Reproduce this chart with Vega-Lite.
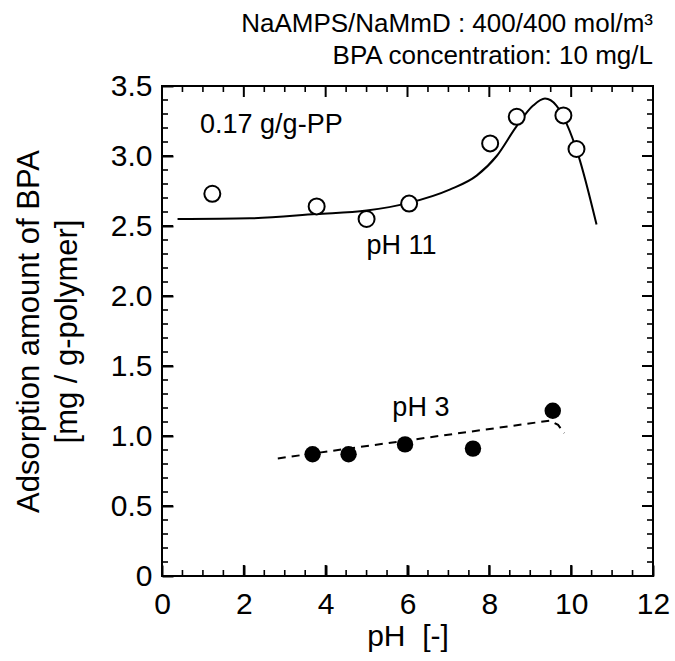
{
  "$schema": "https://vega.github.io/schema/vega-lite/v6.json",
  "width": 491,
  "height": 490,
  "autosize": {"type": "none"},
  "padding": {"left": 162, "top": 86, "right": 22, "bottom": 85},
  "background": "white",
  "title": {
    "text": "NaAMPS/NaMmD : 400/400 mol/m³",
    "subtitle": "BPA concentration: 10 mg/L",
    "anchor": "end",
    "frame": "group",
    "font": "Liberation Sans",
    "subtitleFont": "Liberation Sans",
    "fontSize": 26,
    "subtitleFontSize": 26,
    "fontWeight": "normal",
    "color": "black",
    "subtitleColor": "black",
    "offset": 2,
    "subtitlePadding": 6
  },
  "config": {
    "view": {"stroke": "black", "strokeWidth": 2},
    "axis": {
      "domain": false,
      "grid": false,
      "labelFont": "Liberation Sans",
      "titleFont": "Liberation Sans",
      "labelColor": "black",
      "titleColor": "black",
      "tickColor": "black",
      "tickWidth": 2,
      "titleFontWeight": "normal",
      "labelFlush": false,
      "labelOverlap": false
    }
  },
  "datasets": {
    "curve": [
      {"ph": 0.38, "amount": 2.55},
      {"ph": 2.15, "amount": 2.555},
      {"ph": 3.77, "amount": 2.585},
      {"ph": 5.0, "amount": 2.61},
      {"ph": 6.03, "amount": 2.665},
      {"ph": 7.03, "amount": 2.76},
      {"ph": 7.69, "amount": 2.86},
      {"ph": 8.18, "amount": 3.0},
      {"ph": 8.66, "amount": 3.21},
      {"ph": 9.07, "amount": 3.36},
      {"ph": 9.36, "amount": 3.41},
      {"ph": 9.64, "amount": 3.36},
      {"ph": 9.89, "amount": 3.23},
      {"ph": 10.17, "amount": 3.01},
      {"ph": 10.62, "amount": 2.51}
    ],
    "dash": [
      {"ph": 2.83, "amount": 0.84},
      {"ph": 9.48, "amount": 1.11},
      {"ph": 9.68, "amount": 1.08},
      {"ph": 9.83, "amount": 1.02}
    ],
    "open": [
      {"ph": 1.23, "amount": 2.73},
      {"ph": 3.78, "amount": 2.64},
      {"ph": 5.0, "amount": 2.55},
      {"ph": 6.04, "amount": 2.66},
      {"ph": 8.02, "amount": 3.09},
      {"ph": 8.67, "amount": 3.28},
      {"ph": 9.81, "amount": 3.29},
      {"ph": 10.13, "amount": 3.05}
    ],
    "filled": [
      {"ph": 3.68, "amount": 0.87},
      {"ph": 4.56, "amount": 0.87},
      {"ph": 5.94, "amount": 0.94},
      {"ph": 7.6, "amount": 0.91},
      {"ph": 9.55, "amount": 1.18}
    ],
    "labels": [
      {"ph": 0.93, "amount": 3.164, "label": "0.17 g/g-PP"},
      {"ph": 5.0, "amount": 2.3, "label": "pH 11"},
      {"ph": 5.63, "amount": 1.14, "label": "pH 3"}
    ],
    "xmajor": [{"ph": 2}, {"ph": 4}, {"ph": 6}, {"ph": 8}, {"ph": 10}],
    "xminor": [
      {"ph": 0.5}, {"ph": 1}, {"ph": 1.5}, {"ph": 2.5}, {"ph": 3}, {"ph": 3.5},
      {"ph": 4.5}, {"ph": 5}, {"ph": 5.5}, {"ph": 6.5}, {"ph": 7}, {"ph": 7.5},
      {"ph": 8.5}, {"ph": 9}, {"ph": 9.5}, {"ph": 10.5}, {"ph": 11}, {"ph": 11.5}
    ],
    "ymajor": [{"amount": 0.5}, {"amount": 1}, {"amount": 1.5}, {"amount": 2}, {"amount": 2.5}, {"amount": 3}],
    "yminor": [
      {"amount": 0.1}, {"amount": 0.2}, {"amount": 0.3}, {"amount": 0.4},
      {"amount": 0.6}, {"amount": 0.7}, {"amount": 0.8}, {"amount": 0.9},
      {"amount": 1.1}, {"amount": 1.2}, {"amount": 1.3}, {"amount": 1.4},
      {"amount": 1.6}, {"amount": 1.7}, {"amount": 1.8}, {"amount": 1.9},
      {"amount": 2.1}, {"amount": 2.2}, {"amount": 2.3}, {"amount": 2.4},
      {"amount": 2.6}, {"amount": 2.7}, {"amount": 2.8}, {"amount": 2.9},
      {"amount": 3.1}, {"amount": 3.2}, {"amount": 3.3}, {"amount": 3.4}
    ]
  },
  "layer": [
    {
      "data": {"name": "curve"},
      "mark": {"type": "line", "color": "black", "strokeWidth": 2, "interpolate": "monotone"},
      "encoding": {
        "x": {
          "field": "ph", "type": "quantitative",
          "scale": {"domain": [0, 12], "nice": false, "zero": false},
          "axis": {
            "orient": "bottom",
            "offset": -11,
            "values": [0, 2, 4, 6, 8, 10, 12],
            "tickSize": 11,
            "labelPadding": 13,
            "labelFontSize": 30,
            "title": "pH\u00a0\u00a0[-]",
            "titleFontSize": 30,
            "titlePadding": 2
          }
        },
        "y": {
          "field": "amount", "type": "quantitative",
          "scale": {"domain": [0, 3.5], "nice": false, "zero": false},
          "axis": {
            "orient": "left",
            "offset": -11,
            "values": [0, 0.5, 1, 1.5, 2, 2.5, 3, 3.5],
            "labelExpr": "datum.value == 0 ? '0' : format(datum.value, '.1f')",
            "tickSize": 11,
            "labelPadding": 10,
            "labelFontSize": 30,
            "title": ["Adsorption amount of BPA", "[mg / g-polymer]"],
            "titleFontSize": 31,
            "titleLineHeight": 38,
            "titlePadding": 27
          }
        }
      }
    },
    {
      "data": {"name": "xmajor"},
      "mark": {"type": "tick", "orient": "vertical", "size": 11, "thickness": 2, "color": "black", "opacity": 1, "yOffset": -5.5},
      "encoding": {
        "x": {"field": "ph", "type": "quantitative", "scale": {"domain": [0, 12], "nice": false, "zero": false}, "axis": null},
        "y": {"datum": 0, "type": "quantitative", "scale": {"domain": [0, 3.5], "nice": false, "zero": false}, "axis": null}
      }
    },
    {
      "data": {"name": "xmajor"},
      "mark": {"type": "tick", "orient": "vertical", "size": 11, "thickness": 2, "color": "black", "opacity": 1, "yOffset": 5.5},
      "encoding": {
        "x": {"field": "ph", "type": "quantitative", "scale": {"domain": [0, 12], "nice": false, "zero": false}, "axis": null},
        "y": {"datum": 3.5, "type": "quantitative", "scale": {"domain": [0, 3.5], "nice": false, "zero": false}, "axis": null}
      }
    },
    {
      "data": {"name": "xminor"},
      "mark": {"type": "tick", "orient": "vertical", "size": 6, "thickness": 1.6, "color": "black", "opacity": 1, "yOffset": -3},
      "encoding": {
        "x": {"field": "ph", "type": "quantitative", "scale": {"domain": [0, 12], "nice": false, "zero": false}, "axis": null},
        "y": {"datum": 0, "type": "quantitative", "scale": {"domain": [0, 3.5], "nice": false, "zero": false}, "axis": null}
      }
    },
    {
      "data": {"name": "xminor"},
      "mark": {"type": "tick", "orient": "vertical", "size": 6, "thickness": 1.6, "color": "black", "opacity": 1, "yOffset": 3},
      "encoding": {
        "x": {"field": "ph", "type": "quantitative", "scale": {"domain": [0, 12], "nice": false, "zero": false}, "axis": null},
        "y": {"datum": 3.5, "type": "quantitative", "scale": {"domain": [0, 3.5], "nice": false, "zero": false}, "axis": null}
      }
    },
    {
      "data": {"name": "ymajor"},
      "mark": {"type": "tick", "orient": "horizontal", "size": 11, "thickness": 2, "color": "black", "opacity": 1, "xOffset": 5.5},
      "encoding": {
        "x": {"datum": 0, "type": "quantitative", "scale": {"domain": [0, 12], "nice": false, "zero": false}, "axis": null},
        "y": {"field": "amount", "type": "quantitative", "scale": {"domain": [0, 3.5], "nice": false, "zero": false}, "axis": null}
      }
    },
    {
      "data": {"name": "ymajor"},
      "mark": {"type": "tick", "orient": "horizontal", "size": 11, "thickness": 2, "color": "black", "opacity": 1, "xOffset": -5.5},
      "encoding": {
        "x": {"datum": 12, "type": "quantitative", "scale": {"domain": [0, 12], "nice": false, "zero": false}, "axis": null},
        "y": {"field": "amount", "type": "quantitative", "scale": {"domain": [0, 3.5], "nice": false, "zero": false}, "axis": null}
      }
    },
    {
      "data": {"name": "yminor"},
      "mark": {"type": "tick", "orient": "horizontal", "size": 6, "thickness": 1.6, "color": "black", "opacity": 1, "xOffset": 3},
      "encoding": {
        "x": {"datum": 0, "type": "quantitative", "scale": {"domain": [0, 12], "nice": false, "zero": false}, "axis": null},
        "y": {"field": "amount", "type": "quantitative", "scale": {"domain": [0, 3.5], "nice": false, "zero": false}, "axis": null}
      }
    },
    {
      "data": {"name": "yminor"},
      "mark": {"type": "tick", "orient": "horizontal", "size": 6, "thickness": 1.6, "color": "black", "opacity": 1, "xOffset": -3},
      "encoding": {
        "x": {"datum": 12, "type": "quantitative", "scale": {"domain": [0, 12], "nice": false, "zero": false}, "axis": null},
        "y": {"field": "amount", "type": "quantitative", "scale": {"domain": [0, 3.5], "nice": false, "zero": false}, "axis": null}
      }
    },
    {
      "data": {"name": "dash"},
      "mark": {"type": "line", "color": "black", "strokeWidth": 2, "strokeDash": [8, 6]},
      "encoding": {
        "x": {"field": "ph", "type": "quantitative", "scale": {"domain": [0, 12], "nice": false, "zero": false}, "axis": null},
        "y": {"field": "amount", "type": "quantitative", "scale": {"domain": [0, 3.5], "nice": false, "zero": false}, "axis": null}
      }
    },
    {
      "data": {"name": "open"},
      "mark": {"type": "point", "shape": "circle", "filled": false, "color": "black", "fill": "white", "fillOpacity": 1, "strokeWidth": 2, "size": 256, "opacity": 1},
      "encoding": {
        "x": {"field": "ph", "type": "quantitative", "scale": {"domain": [0, 12], "nice": false, "zero": false}, "axis": null},
        "y": {"field": "amount", "type": "quantitative", "scale": {"domain": [0, 3.5], "nice": false, "zero": false}, "axis": null}
      }
    },
    {
      "data": {"name": "filled"},
      "mark": {"type": "point", "shape": "circle", "filled": true, "color": "black", "size": 270, "opacity": 1},
      "encoding": {
        "x": {"field": "ph", "type": "quantitative", "scale": {"domain": [0, 12], "nice": false, "zero": false}, "axis": null},
        "y": {"field": "amount", "type": "quantitative", "scale": {"domain": [0, 3.5], "nice": false, "zero": false}, "axis": null}
      }
    },
    {
      "data": {"name": "labels"},
      "mark": {"type": "text", "align": "left", "baseline": "alphabetic", "font": "Liberation Sans", "fontSize": 27, "color": "black"},
      "encoding": {
        "x": {"field": "ph", "type": "quantitative", "scale": {"domain": [0, 12], "nice": false, "zero": false}, "axis": null},
        "y": {"field": "amount", "type": "quantitative", "scale": {"domain": [0, 3.5], "nice": false, "zero": false}, "axis": null},
        "text": {"field": "label", "type": "nominal"}
      }
    }
  ],
  "resolve": {"axis": {"x": "independent", "y": "independent"}}
}
